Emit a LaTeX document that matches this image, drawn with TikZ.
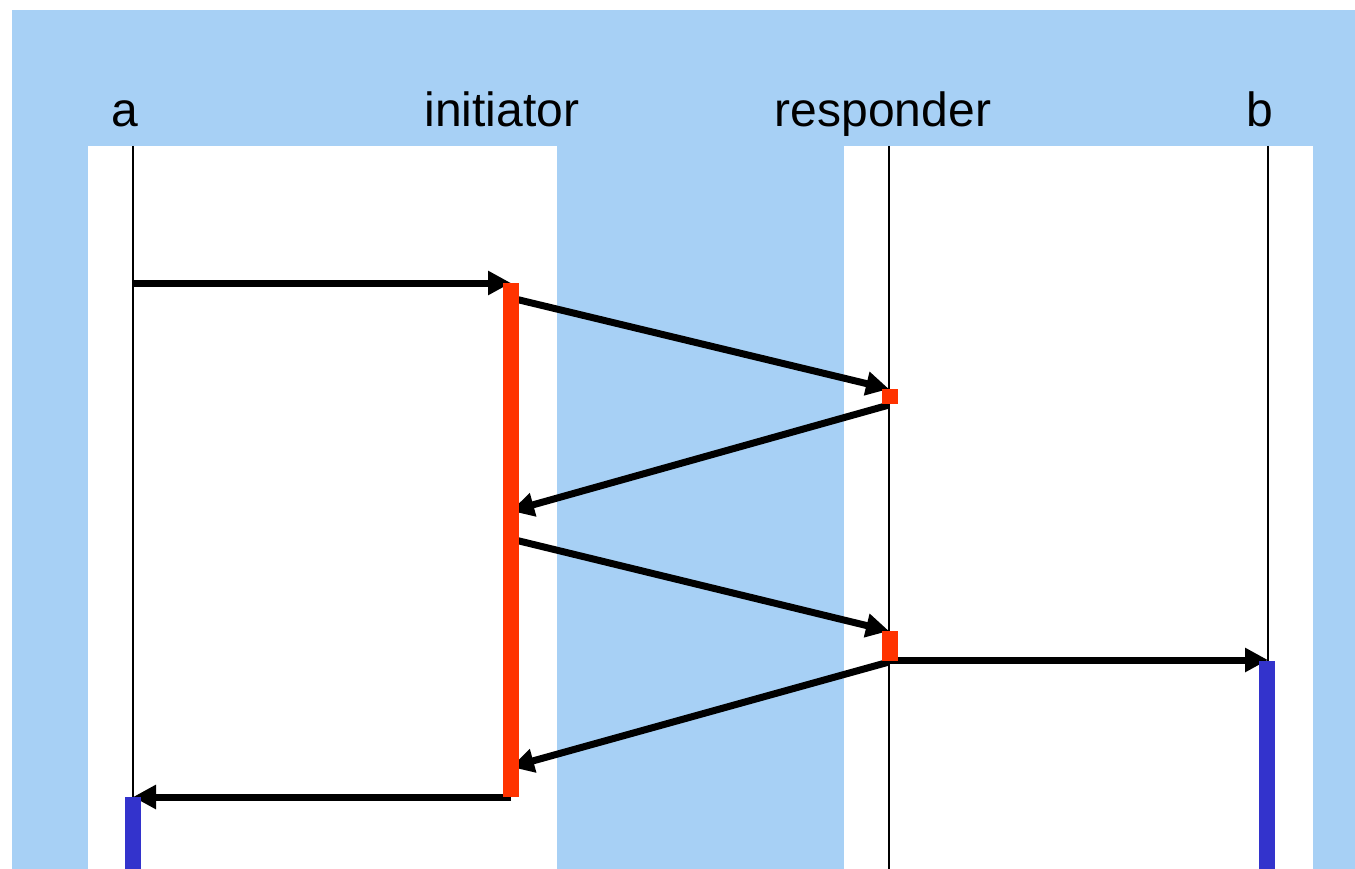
\documentclass[tikz,border=0pt]{standalone}
\usepackage{fontspec}
\setmainfont{Liberation Sans}
\usetikzlibrary{arrows.meta}
\definecolor{sky}{RGB}{167,208,245}
\definecolor{actred}{RGB}{255,51,0}
\definecolor{actblue}{RGB}{51,51,204}
\begin{document}
\begin{tikzpicture}[x=1pt,y=-1pt,
  lifeline/.style={line width=2pt},
  msg/.style={line width=7pt,-{Triangle[length=23pt,width=23pt]}},
  lbl/.style={anchor=base,inner sep=0pt,font=\fontsize{48}{58}\selectfont},
  bar/.style={inner sep=0pt,outer sep=0pt,minimum width=16pt,anchor=north},
  redbar/.style={bar,fill=actred},
  bluebar/.style={bar,fill=actblue}]
\useasboundingbox (0,0) rectangle (1355,869);
% background and the two white panels
\fill[sky] (12,10) rectangle (1355,869);
\fill[white] (88,146) rectangle (557,869);
\fill[white] (844,146) rectangle (1313,869);

% participant names
\node[lbl] (na) at (125,127) {a};
\node[lbl] (ni) at (502,127) {initiator};
\node[lbl] (nr) at (883,127) {responder};
\node[lbl] (nb) at (1260,127) {b};

% lifeline anchors
\coordinate (atop) at (133,146);
\coordinate (abot) at (133,797);
\coordinate (rtop) at (889,146);
\coordinate (rbot) at (889,869);
\coordinate (btop) at (1268,146);
\coordinate (bbot) at (1268,661);

\draw[lifeline] (atop) -- (abot);
\draw[lifeline] (rtop) -- (rbot);
\draw[lifeline] (btop) -- (bbot);

% message end points
\coordinate (m1s) at (133,283);  \coordinate (m1e) at (511,283);
\coordinate (m2s) at (511,298);  \coordinate (m2e) at (889,389);
\coordinate (m3s) at (889,405);  \coordinate (m3e) at (511,511);
\coordinate (m4s) at (511,539);  \coordinate (m4e) at (889,631);
\coordinate (m5s) at (889,660);  \coordinate (m5e) at (1268,660);
\coordinate (m6s) at (889,662);  \coordinate (m6e) at (511,767);
\coordinate (m7s) at (511,797);  \coordinate (m7e) at (133,797);

\draw[msg] (m1s) -- (m1e);
\draw[msg] (m2s) -- (m2e);
\draw[msg] (m3s) -- (m3e);
\draw[msg] (m4s) -- (m4e);
\draw[msg] (m5s) -- (m5e);
\draw[msg] (m6s) -- (m6e);
\draw[msg] (m7s) -- (m7e);

% activation bars
\node[redbar,minimum height=514pt] (ibar) at (511,283) {};
\node[redbar,minimum height=15pt] (rbar1) at (890,389) {};
\node[redbar,minimum height=30pt] (rbar2) at (890,631) {};
\node[bluebar,minimum height=72pt] (abar) at (133,797) {};
\node[bluebar,minimum height=208pt] (bbar) at (1267,661) {};
\end{tikzpicture}
\end{document}
